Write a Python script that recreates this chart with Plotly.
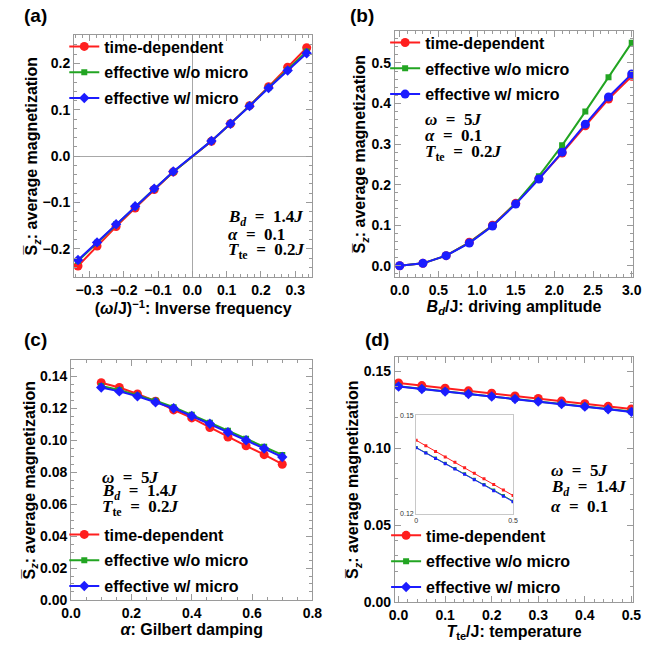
import plotly.graph_objects as go

# ---------------- data ----------------
names = ["time-dependent", "effective w/o micro", "effective w/ micro"]

x_a = [-0.3333, -0.2778, -0.2222, -0.1667, -0.1111, -0.0556, 0.0556, 0.1111, 0.1667, 0.2222, 0.2778, 0.3333]
red_a = [-0.237, -0.194, -0.152, -0.112, -0.072, -0.034, 0.032, 0.070, 0.109, 0.150, 0.192, 0.234]
green_a = [-0.226, -0.187, -0.147, -0.109, -0.071, -0.034, 0.033, 0.070, 0.109, 0.148, 0.186, 0.226]
blue_a = [-0.224, -0.186, -0.147, -0.108, -0.070, -0.033, 0.033, 0.070, 0.108, 0.147, 0.185, 0.222]

x_b = [0.0, 0.3, 0.6, 0.9, 1.2, 1.5, 1.8, 2.1, 2.4, 2.7, 3.0]
red_b = [0.0, 0.006, 0.025, 0.058, 0.100, 0.154, 0.215, 0.278, 0.345, 0.411, 0.467]
green_b = [0.0, 0.006, 0.025, 0.057, 0.099, 0.154, 0.221, 0.297, 0.380, 0.465, 0.550]
blue_b = [0.0, 0.006, 0.025, 0.056, 0.098, 0.152, 0.214, 0.280, 0.349, 0.416, 0.473]

x_c = [0.10, 0.16, 0.22, 0.28, 0.34, 0.40, 0.46, 0.52, 0.58, 0.64, 0.70]
red_c = [0.136, 0.133, 0.129, 0.1245, 0.119, 0.114, 0.108, 0.102, 0.0965, 0.091, 0.085]
green_c = [0.134, 0.1315, 0.128, 0.1248, 0.1207, 0.116, 0.111, 0.106, 0.101, 0.096, 0.0908]
blue_c = [0.133, 0.1306, 0.1275, 0.1238, 0.120, 0.1152, 0.1103, 0.105, 0.100, 0.0948, 0.0895]

x_d = [0.0, 0.05, 0.10, 0.15, 0.20, 0.25, 0.30, 0.35, 0.40, 0.45, 0.50]
red_d = [0.1424, 0.1407, 0.1390, 0.1373, 0.1357, 0.1340, 0.1323, 0.1306, 0.1289, 0.1272, 0.1255]
green_d = [0.1402, 0.1386, 0.1370, 0.1354, 0.1338, 0.1322, 0.1305, 0.1289, 0.1272, 0.1255, 0.1238]
blue_d = [0.1401, 0.1385, 0.1368, 0.1352, 0.1336, 0.1320, 0.1303, 0.1287, 0.1270, 0.1253, 0.1236]

# ---------------- style ----------------
W, H = 652, 660
RED, GREEN, BLUE = "#ff1f1f", "#22a522", "#1c1cff"
SANS = "Liberation Sans, Arial, sans-serif"
SERIF = "Liberation Serif, Times New Roman, serif"
FRAME = "#9a9a9a"


def px_x(a, b):
    return [a / W, b / W]


def px_y(top, bottom):
    return [1 - bottom / H, 1 - top / H]


fig = go.Figure()

panels = [
    ("", x_a, (red_a, green_a, blue_a), "legend", "diamond"),
    ("2", x_b, (red_b, green_b, blue_b), "legend2", "circle"),
    ("3", x_c, (red_c, green_c, blue_c), "legend3", "diamond"),
    ("4", x_d, (red_d, green_d, blue_d), "legend4", "diamond"),
]

for ax, xs, ser, leg, bsym in panels:
    styles = [
        (RED, "circle", 9),
        (GREEN, "square", 6),
        (BLUE, bsym, 8 if bsym == "diamond" else 9),
    ]
    for (col, sym, size), ys, nm in zip(styles, ser, names):
        fig.add_trace(go.Scatter(
            x=xs, y=ys, name=nm, mode="lines+markers",
            line=dict(color=col, width=2),
            marker=dict(color=col, symbol=sym, size=size),
            xaxis="x" + ax, yaxis="y" + ax, legend=leg,
            legendgroup=leg + nm,
        ))

# inset (zoom of panel d)
for col, ys in zip((RED, GREEN, BLUE), (red_d, green_d, blue_d)):
    fig.add_trace(go.Scatter(
        x=x_d, y=ys, mode="lines+markers", showlegend=False,
        line=dict(color=col, width=1), marker=dict(color=col, symbol="square", size=3),
        xaxis="x5", yaxis="y5",
    ))

tickfont = dict(family=SANS, size=14, color="black", weight="bold")
titlefont = dict(family=SANS, size=16, color="black", weight="bold")


def axis(domain, rng, dtick, minor, title, anchor, standoff, zeroline=False, tickformat=None):
    d = dict(
        domain=domain, range=rng, dtick=dtick, tick0=0, anchor=anchor,
        showline=True, linecolor=FRAME, linewidth=1, mirror="ticks",
        ticks="inside", ticklen=6, tickcolor=FRAME, tickwidth=1,
        minor=dict(ticks="inside", ticklen=3, dtick=minor, tick0=0, tickcolor=FRAME, showgrid=False),
        showgrid=False, zeroline=zeroline, zerolinecolor="#a8a8a8", zerolinewidth=1,
        tickfont=tickfont, title=dict(text=title, font=titlefont, standoff=standoff),
    )
    if tickformat:
        d["tickformat"] = tickformat
    return d


SZ = "S\u0305<sub><i>z</i></sub>: average magnetization"

layout = dict(
    width=W, height=H, margin=dict(l=0, r=0, t=0, b=0),
    paper_bgcolor="white", plot_bgcolor="white",
    xaxis=axis(px_x(66, 312), [-0.345, 0.350], 0.1, 0.02,
               "(<i>ω</i>/J)<sup>−1</sup>: Inverse frequency", "y", 3, zeroline=True, tickformat=".1f"),
    yaxis=axis(px_y(32, 278), [-0.2606, 0.2606], 0.1, 0.02, SZ, "x", 0, zeroline=True, tickformat=".1f"),
    xaxis2=axis(px_x(397, 643), [-0.063, 3.02], 0.5, 0.1,
                "<i>B<sub>d</sub></i>/J: driving amplitude", "y2", 3, tickformat=".1f"),
    yaxis2=axis(px_y(28, 278), [-0.0275, 0.5775], 0.1, 0.02, SZ, "x2", 1, tickformat=".1f"),
    xaxis3=axis(px_x(63, 312), [0, 0.8], 0.2, 0.05,
                "<i>α</i>: Gilbert damping", "y3", 3, tickformat=".1f"),
    yaxis3=axis(px_y(363, 607), [0, 0.15], 0.02, 0.005, SZ, "x3", 0, tickformat=".2f"),
    xaxis4=axis(px_x(397, 643), [-0.008, 0.504], 0.1, 0.02,
                "<i>T</i><sub>te</sub>/J: temperature", "y4", 3, tickformat=".1f"),
    yaxis4=axis(px_y(360, 609), [0, 0.159], 0.05, 0.01, SZ, "x4", 0, tickformat=".2f"),
    xaxis5=dict(domain=px_x(419, 519), range=[0, 0.5], anchor="y5",
                showline=True, linecolor="#c8c8c8", mirror=True, ticks="",
                tickvals=[0, 0.5], ticktext=["0", "0.5"], showgrid=False, zeroline=False,
                tickfont=dict(family=SANS, size=7, color="#333")),
    yaxis5=dict(domain=px_y(419, 519), range=[0.12, 0.15], anchor="x5",
                showline=True, linecolor="#c8c8c8", mirror=True, ticks="",
                tickvals=[0.12, 0.15], ticktext=["0.12", "0.15"], showgrid=False, zeroline=False,
                tickfont=dict(family=SANS, size=7, color="#333")),
)

legfont = dict(family=SANS, size=16, color="black", weight="bold")


def legend(x_text, y_first):
    return dict(x=(x_text - 42) / W, y=1 - (y_first - 19) / H, xanchor="left", yanchor="top",
                bgcolor="rgba(0,0,0,0)", font=legfont, tracegroupgap=2, itemwidth=30)


layout["legend"] = legend(98, 45)
layout["legend2"] = legend(429, 41)
layout["legend3"] = legend(98, 542)
layout["legend4"] = legend(430, 543)

fig.update_layout(**layout)

ann = []


def label(text, x, y, size=19):
    ann.append(dict(text=text, x=x / W, y=1 - y / H, xref="paper", yref="paper",
                    xanchor="left", yanchor="middle", showarrow=False,
                    font=dict(family=SANS, size=size, color="black", weight="bold")))


label("(a)", 12, 12)
label("(b)", 349, 12)
label("(c)", 12, 342)
label("(d)", 364, 342)

EQ = "\u2002=\u2002"
OM = "<i>ω</i>" + EQ + "5<i>J</i>"
BD = "<i>B<sub>d</sub></i>" + EQ + "1.4<i>J</i>"
AL = "<i>α</i>" + EQ + "0.1"
TT = "<i>T</i><sub>te</sub>" + EQ + "0.2<i>J</i>"


def params(lines, x, ys):
    for t, y in zip(lines, ys):
        ann.append(dict(text=t, x=x / W, y=1 - y / H, xref="paper", yref="paper",
                        xanchor="left", yanchor="middle", showarrow=False,
                        font=dict(family=SERIF, size=17, color="black", weight="bold")))


params([BD, AL, TT], 223, [218, 235, 252])
params([OM, AL, TT], 426, [118, 134, 152])
params([OM, BD, TT], 93, [482, 497, 513])
params([OM, BD, AL], 556, [475, 493, 512])

fig.update_layout(annotations=ann)
fig.write_html("out.html")
